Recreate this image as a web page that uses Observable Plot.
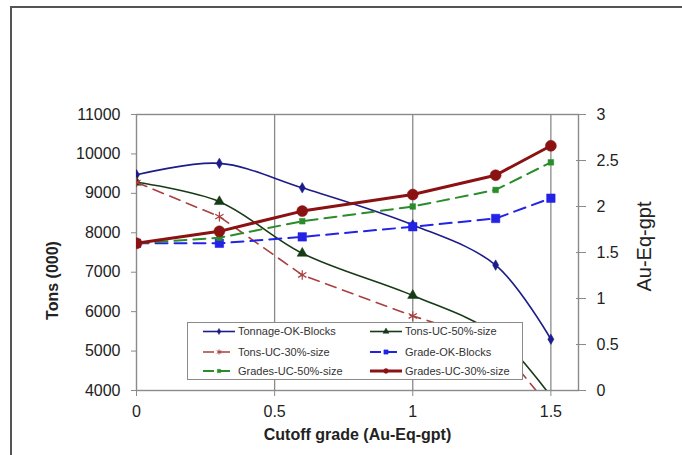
<!DOCTYPE html>
<html><head><meta charset="utf-8">
<script src="https://cdn.jsdelivr.net/npm/d3@7"></script>
<script src="https://cdn.jsdelivr.net/npm/@observablehq/plot@0.6"></script>
<style>
html,body{margin:0;padding:0;background:#fff;overflow:hidden;}
#wrap{position:relative;width:682px;height:455px;}
#border{position:absolute;left:10px;top:6px;width:700px;height:480px;border:2px solid #555;box-sizing:border-box;pointer-events:none;}
#wrap svg{position:absolute;left:0;top:0;}
</style></head><body><div id="wrap"><div id="border"></div></div>
<script>
// ---- data ----
const cutoff = [0, 0.3, 0.6, 1.0, 1.3, 1.5];
const tonnageOK   = [9470, 9760, 9140, 8200, 7180, 5300];
const tonsUC50    = [9280, 8790, 7480, 6410, 5420, 3850];
const tonsUC30    = [9280, 8410, 6930, 5890, 5240, 3550];
const gradeOK     = [1.60, 1.60, 1.67, 1.78, 1.87, 2.09];
const gradesUC50  = [1.60, 1.66, 1.84, 2.00, 2.18, 2.48];
const gradesUC30  = [1.60, 1.73, 1.95, 2.13, 2.34, 2.66];
const tonsTicks  = [4000, 5000, 6000, 7000, 8000, 9000, 10000, 11000];
const gradeTicks = [0, 0.5, 1, 1.5, 2, 2.5, 3];
const xTicks     = [0, 0.5, 1, 1.5];
const xTitle = "Cutoff grade (Au-Eq-gpt)";
const yTitle = "Tons (000)";
const y2Title = "Au-Eq-gpt";

// secondary axis mapping (grade 0..3 onto tons 4000..11000)
const toTons = g => 4000 + g * 7000 / 3;
const toGrade = t => Math.round((t - 4000) * 3 / 7000 * 2) / 2;

const series = [
  {name: "Tonnage-OK-Blocks",  axis: "tons",  values: tonnageOK,  color: "#1c1c8a", width: 1.6, dash: null,    curve: "catmull-rom", symbol: "diamond",  r: 3.2, fill: true},
  {name: "Tons-UC-50%-size",   axis: "tons",  values: tonsUC50,   color: "#173a17", width: 1.6, dash: null,    curve: "catmull-rom", symbol: "triangle", r: 3.8, fill: true},
  {name: "Tons-UC-30%-size",   axis: "tons",  values: tonsUC30,   color: "#a8403f", width: 1.6, dash: "11,7",  curve: "linear",      symbol: "asterisk", r: 4.5, fill: false},
  {name: "Grade-OK-Blocks",    axis: "grade", values: gradeOK,    color: "#2323e6", width: 2,   dash: "12,7",  curve: "linear",      symbol: "square",   r: 4.8, fill: true},
  {name: "Grades-UC-50%-size", axis: "grade", values: gradesUC50, color: "#2a8c2a", width: 2,   dash: "12,7",  curve: "linear",      symbol: "square",   r: 3.2, fill: true},
  {name: "Grades-UC-30%-size", axis: "grade", values: gradesUC30, color: "#8a1212", width: 3,   dash: null,    curve: "linear",      symbol: "circle",   r: 5.5, fill: true}
];

const rows = s => cutoff.map((c, i) => ({x: c, v: s.axis === "grade" ? toTons(s.values[i]) : s.values[i]}));

const marks = [
  Plot.gridX(xTicks.slice(1), {stroke: "#8a8a8a", strokeOpacity: 1, strokeWidth: 1.3}),
  Plot.frame({stroke: "#8a8a8a", strokeWidth: 1.4}),
  Plot.axisY(tonsTicks, {anchor: "left", tickSize: 5, tickPadding: 11, tickFormat: d3.format("d"), stroke: "#8a8a8a", fill: "#222", label: null}),
  Plot.axisY(gradeTicks.map(toTons), {anchor: "right", tickSize: 10, dx: -3, tickPadding: 11, tickFormat: d => String(toGrade(d)), stroke: "#8a8a8a", fill: "#222", label: null}),
  Plot.axisX(xTicks, {anchor: "bottom", tickSize: 6, tickPadding: 9, tickFormat: d => String(d), stroke: "#8a8a8a", fill: "#222", label: null}),
];
for (const s of series) {
  marks.push(Plot.line(rows(s), {x: "x", y: "v", stroke: s.color, strokeWidth: s.width, strokeDasharray: s.dash, curve: s.curve, clip: true}));
  marks.push(Plot.dot(rows(s), {x: "x", y: "v", symbol: s.symbol, r: s.r, fill: s.fill ? s.color : "none", stroke: s.color, strokeWidth: s.fill ? 0.5 : 1.2, clip: true}));
}
marks.push(
  Plot.text([xTitle], {text: d => d, frameAnchor: "bottom", dy: 44, textAnchor: "middle", fontWeight: "bold", fontSize: 16, fill: "#222", lineAnchor: "middle"}),
  Plot.text([yTitle], {text: d => d, frameAnchor: "left", dx: -84, dy: 28, textAnchor: "middle", rotate: -90, fontWeight: "bold", fontSize: 16, fill: "#222", lineAnchor: "middle"}),
  Plot.text([y2Title], {text: d => d, frameAnchor: "right", dx: 66, dy: -6, textAnchor: "middle", rotate: -90, fontSize: 20, fill: "#222", lineAnchor: "middle"})
);

const chart = Plot.plot({
  width: 682, height: 455,
  marginLeft: 136, marginRight: 104, marginTop: 114, marginBottom: 65,
  x: {domain: [0, 1.6]},
  y: {domain: [4000, 11000]},
  style: {fontFamily: "'Liberation Sans', Arial, sans-serif", fontSize: "16px", background: "transparent", color: "#222"},
  marks
});
document.getElementById("wrap").appendChild(chart);

// ---- legend (inside the plot, Excel style) ----
const svg = d3.select(chart);
const lg = svg.append("g").attr("font-family", "'Liberation Sans', Arial, sans-serif").attr("font-size", 11).attr("text-anchor", "start");
lg.append("rect").attr("x", 187.5).attr("y", 322.5).attr("width", 335).attr("height", 57).attr("fill", "#fff").attr("stroke", "#8a8a8a").attr("stroke-width", 1);
const symMap = {diamond: d3.symbolDiamond, triangle: d3.symbolTriangle, asterisk: d3.symbolAsterisk, square: d3.symbolSquare, circle: d3.symbolCircle};
const rowY = [331.5, 352, 371];
series.forEach((s, i) => {
  const col = i % 2, row = Math.floor(i / 2);
  const x0 = col === 0 ? 203 : 370, y = rowY[row];
  lg.append("line").attr("x1", x0).attr("x2", x0 + 32).attr("y1", y).attr("y2", y)
    .attr("stroke", s.color).attr("stroke-width", s.width).attr("stroke-dasharray", s.dash ? "11,5" : null);
  lg.append("path").attr("transform", `translate(${x0 + 16},${y})`)
    .attr("d", d3.symbol(symMap[s.symbol], Math.min(18, s.r * s.r * 1.1))())
    .attr("fill", s.fill ? s.color : "none").attr("stroke", s.color).attr("stroke-width", s.fill ? 0.5 : 1);
  lg.append("text").attr("x", x0 + 35).attr("y", y).attr("dy", "0.35em").attr("text-anchor", "start").attr("fill", "#333").text(s.name);
});
</script></body></html>
